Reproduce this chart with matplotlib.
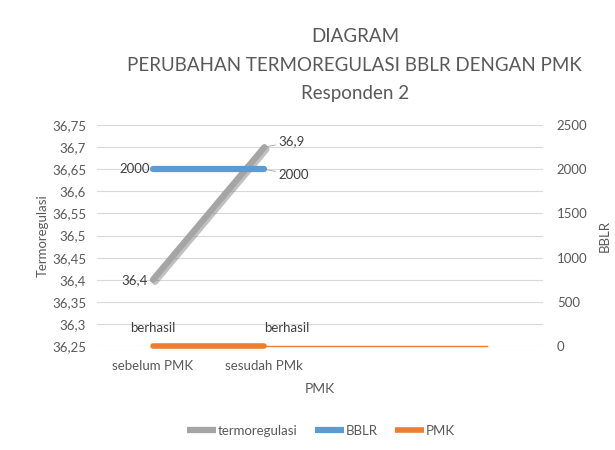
import matplotlib.pyplot as plt
import matplotlib.patheffects as pe
from matplotlib.ticker import FuncFormatter

plt.rcParams['font.family'] = ['Lato', 'DejaVu Sans']

# data
categories = ['sebelum PMK', 'sesudah PMk', '', '']
termo = [36.4, 36.7]          # drawn position of the line
termo_labels = ['36,4', '36,9']
bblr = [2000, 2000]
pmk = [0, 0, 0, 0]
pmk_labels = ['berhasil', 'berhasil']

grey = '#A5A5A5'
blue = '#5B9BD5'
orange = '#ED7D31'
txt = '#595959'

fig = plt.figure(figsize=(6.15, 4.5), dpi=100)
ax = fig.add_axes([0.158, 0.231, 0.725, 0.491])
ax2 = ax.twinx()

x = list(range(len(categories)))

ax.set_xlim(-0.5, 3.5)
ax.set_ylim(36.25, 36.75)
ax.set_yticks([36.25 + 0.05 * i for i in range(11)])
ax.yaxis.set_major_formatter(FuncFormatter(lambda v, p: ('%.2f' % v).rstrip('0').rstrip('.').replace('.', ',')))
ax.grid(axis='y', color='#D9D9D9', lw=0.8)
ax.set_axisbelow(True)
ax.set_xticks(x)
ax.set_xticklabels(categories)

ax2.set_ylim(0, 2500)
ax2.set_yticks(range(0, 2501, 500))

for a in (ax, ax2):
    for s in a.spines.values():
        s.set_visible(False)
    a.tick_params(length=0, colors=txt, labelsize=9.5)
ax.tick_params(axis='x', pad=10)
ax.tick_params(axis='y', pad=8)
ax2.tick_params(axis='y', pad=10)

ax.set_ylabel('Termoregulasi', color=txt, fontsize=9.5, labelpad=2)
ax2.set_ylabel('BBLR', color=txt, fontsize=9.5, labelpad=8)
ax.set_xlabel('PMK', color=txt, fontsize=10, labelpad=8)

# lines
lt, = ax.plot(x[:2], termo, color=grey, lw=4.5, solid_capstyle='round', zorder=3,
              path_effects=[pe.SimpleLineShadow(offset=(1.5, -1.5), shadow_color='#777777', alpha=0.45),
                            pe.Normal()])
lb, = ax2.plot(x[:2], bblr, color=blue, lw=4.5, solid_capstyle='round', zorder=3)
lp, = ax2.plot(x[:2], pmk[:2], color=orange, lw=4, solid_capstyle='round', zorder=3, clip_on=False)
ax2.plot(x[1:], pmk[1:], color=orange, lw=1, zorder=3, clip_on=False)

# data labels
ax.annotate(termo_labels[0], (x[0], termo[0]), xytext=(-4, 0), textcoords='offset points',
            ha='right', va='center', color='#404040', fontsize=9.5)
ax.annotate(termo_labels[1], (x[1], termo[1]), xytext=(10, 4), textcoords='offset points',
            ha='left', va='center', color='#404040', fontsize=9.5,
            arrowprops=dict(arrowstyle='-', color='#A6A6A6', lw=0.6, shrinkA=0, shrinkB=2))
ax2.annotate(str(bblr[0]), (x[0], bblr[0]), xytext=(-2, 0), textcoords='offset points',
             ha='right', va='center', color='#404040', fontsize=9.5)
ax2.annotate(str(bblr[1]), (x[1], bblr[1]), xytext=(10, -4), textcoords='offset points',
             ha='left', va='center', color='#404040', fontsize=9.5,
             arrowprops=dict(arrowstyle='-', color='#A6A6A6', lw=0.6, shrinkA=0, shrinkB=2))
ax2.annotate(pmk_labels[0], (x[0], pmk[0]), xytext=(0, 9), textcoords='offset points',
             ha='center', va='bottom', color='#404040', fontsize=9.5)
ax2.annotate(pmk_labels[1], (x[1], pmk[1]), xytext=(0, 9), textcoords='offset points',
             ha='left', va='bottom', color='#404040', fontsize=9.5)

# title
fig.text(0.577, 0.918, 'DIAGRAM', ha='center', va='center', fontsize=13.5, color=txt)
fig.text(0.577, 0.855, 'PERUBAHAN TERMOREGULASI BBLR DENGAN PMK', ha='center', va='center', fontsize=13.5, color=txt)
fig.text(0.577, 0.793, 'Responden 2', ha='center', va='center', fontsize=13.5, color=txt)

leg = fig.legend([lt, lb, lp], ['termoregulasi', 'BBLR', 'PMK'], loc='center', bbox_to_anchor=(0.522, 0.043),
                 ncol=3, frameon=False, fontsize=9.5, handlelength=2.2, handletextpad=0.15, columnspacing=1.3,
                 labelcolor=txt)
for h in leg.legend_handles:
    h.set_solid_capstyle('butt')
    h.set_path_effects([])

fig.savefig('out.png', dpi=100)
